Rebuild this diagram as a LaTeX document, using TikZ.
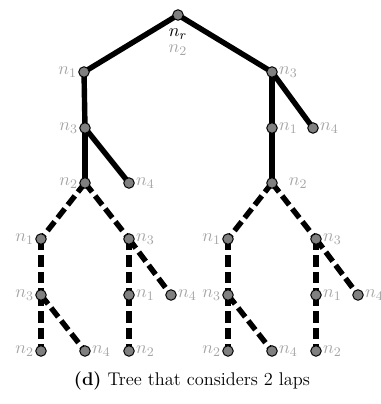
\documentclass[tikz,border=0pt]{standalone}
\usepackage{tikz}
\usepackage{amsmath}
\usetikzlibrary{backgrounds}
\definecolor{ink}{RGB}{0,0,0}
\definecolor{vtxgray}{RGB}{128,128,128}
\definecolor{labgray}{RGB}{165,165,165}

\begin{document}
\begin{tikzpicture}[x=0.61pt, y=-0.61pt, font=\fontsize{11.2}{13.5}\selectfont,
  vtx/.style={circle, draw=ink, fill=vtxgray, line width=0.6pt, inner sep=0pt, minimum size=6.4pt},
  lab/.style={text=labgray, inner sep=0.6pt},
  edge/.style={line width=3.3pt, draw=ink},
  lapedge/.style={edge, dash pattern=on 7pt off 3pt}]
  \useasboundingbox (0,0) rectangle (381,404);
  % first lap
  \node[vtx, label={[inner sep=0.6pt, label distance=4pt]below:$n_r$}, label={[lab, label distance=14pt]below:$n_2$}] (root) at (178,15) {};
  \node[vtx, label={[lab]left:$n_1$}] (L1) at (84,72) {};
  \node[vtx, label={[lab]right:$n_3$}] (R1) at (272,72) {};
  \node[vtx, label={[lab]left:$n_3$}] (L2) at (85,128) {};
  \node[vtx, label={[lab]right:$n_1$}] (R2) at (272,128) {};
  \node[vtx, label={[lab]right:$n_4$}] (R2b) at (313,128) {};
  \node[vtx, label={[lab]left:$n_2$}] (L3) at (85,183) {};
  \node[vtx, label={[lab]right:$n_4$}] (L3b) at (129,183) {};
  \node[vtx, label={[lab, label distance=6pt]right:$n_2$}] (R3) at (272,183) {};
  % second lap
  \node[vtx, label={[lab]left:$n_1$}] (LA) at (41,239) {};
  \node[vtx, label={[lab]right:$n_3$}] (LB) at (129,239) {};
  \node[vtx, label={[lab]left:$n_3$}] (LA1) at (41,295) {};
  \node[vtx, label={[lab]right:$n_1$}] (LB1) at (129,295) {};
  \node[vtx, label={[lab]right:$n_4$}] (LB2) at (171,295) {};
  \node[vtx, label={[lab]left:$n_2$}] (LA1a) at (41,351) {};
  \node[vtx, label={[lab]right:$n_4$}] (LA1b) at (85,351) {};
  \node[vtx, label={[lab]right:$n_2$}] (LB1a) at (129,351) {};
  \node[vtx, label={[lab]left:$n_1$}] (RA) at (228,239) {};
  \node[vtx, label={[lab]right:$n_3$}] (RB) at (316,239) {};
  \node[vtx, label={[lab]left:$n_3$}] (RA1) at (228,295) {};
  \node[vtx, label={[lab]right:$n_1$}] (RB1) at (316,295) {};
  \node[vtx, label={[lab]right:$n_4$}] (RB2) at (358,295) {};
  \node[vtx, label={[lab]left:$n_2$}] (RA1a) at (228,351) {};
  \node[vtx, label={[lab]right:$n_4$}] (RA1b) at (272,351) {};
  \node[vtx, label={[lab]right:$n_2$}] (RB1a) at (316,351) {};
  \node (caption) at (192,381) {\textbf{(d)} Tree that considers 2 laps};
  \begin{scope}[on background layer]
    \draw[edge] (root.center) -- (L1.center);
    \draw[edge] (root.center) -- (R1.center);
    \draw[edge] (L1.center) -- (L2.center);
    \draw[edge] (R1.center) -- (R2.center);
    \draw[edge] (R1.center) -- (R2b.center);
    \draw[edge] (L2.center) -- (L3.center);
    \draw[edge] (L2.center) -- (L3b.center);
    \draw[edge] (R2.center) -- (R3.center);
    \draw[lapedge] (L3.center) -- (LA.center);
    \draw[lapedge] (L3.center) -- (LB.center);
    \draw[lapedge] (LA.center) -- (LA1.center);
    \draw[lapedge] (LA1.center) -- (LA1a.center);
    \draw[lapedge] (LA1.center) -- (LA1b.center);
    \draw[lapedge] (LB.center) -- (LB1.center);
    \draw[lapedge] (LB.center) -- (LB2.center);
    \draw[lapedge] (LB1.center) -- (LB1a.center);
    \draw[lapedge] (R3.center) -- (RA.center);
    \draw[lapedge] (R3.center) -- (RB.center);
    \draw[lapedge] (RA.center) -- (RA1.center);
    \draw[lapedge] (RA1.center) -- (RA1a.center);
    \draw[lapedge] (RA1.center) -- (RA1b.center);
    \draw[lapedge] (RB.center) -- (RB1.center);
    \draw[lapedge] (RB.center) -- (RB2.center);
    \draw[lapedge] (RB1.center) -- (RB1a.center);
  \end{scope}
\end{tikzpicture}
\end{document}
